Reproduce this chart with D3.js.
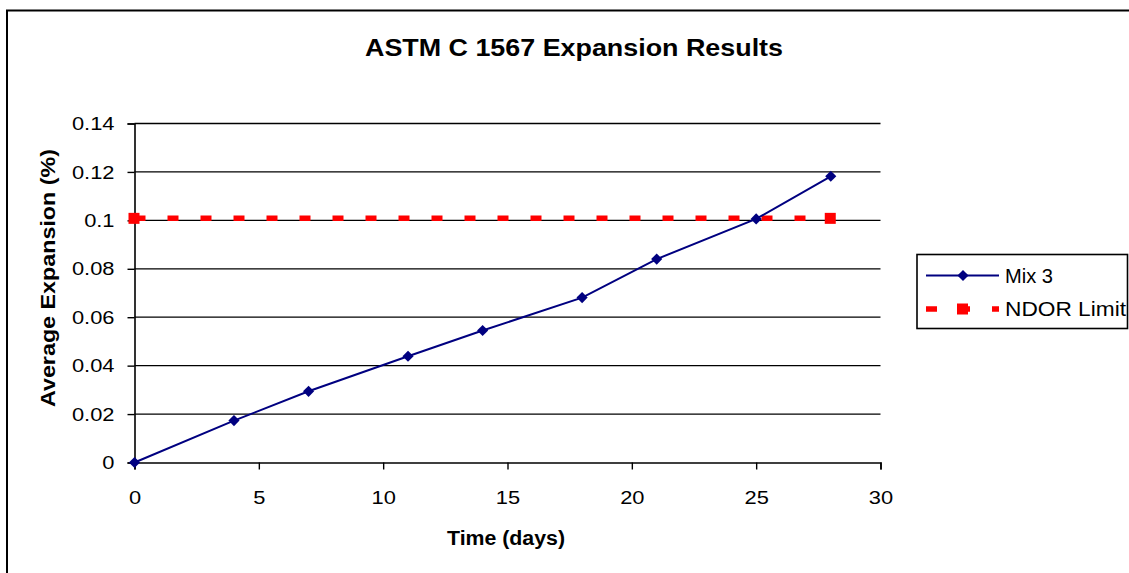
<!DOCTYPE html>
<html>
<head>
<meta charset="utf-8">
<script src="https://cdn.jsdelivr.net/npm/d3@7"></script>
<style>
  body { margin: 0; background: #fff; }
  svg { display: block; font-family: "Liberation Sans", Arial, sans-serif; }
</style>
</head>
<body>
<div id="main"></div>
<script>
// --- chart data
const days = [0, 4, 7, 11, 14, 18, 21, 25, 28];
const mix3 = [0, 0.0173, 0.0294, 0.0439, 0.0545, 0.0681, 0.0840, 0.1006, 0.1182];
const limitDays = [0, 28];
const limitValues = [0.1, 0.1];
const xTicks = [0, 5, 10, 15, 20, 25, 30];
const yTicks = [0, 0.02, 0.04, 0.06, 0.08, 0.1, 0.12, 0.14];

const svgWidth = 1129;
const svgHeight = 573;
const margin = { left: 134.5, top: 123.5, right: 248.5, bottom: 110.5 };
const chartWidth = svgWidth - margin.left - margin.right;
const chartHeight = svgHeight - margin.top - margin.bottom;

// widen text a bit, the original rendering is stretched horizontally
function stretch(sel, factor) {
  sel.each(function () {
    const w = this.getComputedTextLength();
    d3.select(this)
      .attr('textLength', w * factor)
      .attr('lengthAdjust', 'spacingAndGlyphs');
  });
}

const svg = d3.select('#main')
  .append('svg')
  .attr('width', svgWidth)
  .attr('height', svgHeight);

// outer chart border (runs off the right and bottom edge)
svg.append('rect')
  .attr('x', 7)
  .attr('y', 10.5)
  .attr('width', 1140)
  .attr('height', 580)
  .attr('fill', 'none')
  .attr('stroke', '#000')
  .attr('stroke-width', 2);

const xScale = d3.scaleLinear().domain([0, 30]).range([0, chartWidth]);
const yScale = d3.scaleLinear().domain([0, 0.14]).range([chartHeight, 0]);

const g = svg.append('g')
  .attr('transform', `translate(${margin.left}, ${margin.top})`);

// horizontal gridlines
g.selectAll('.grid')
  .data(yTicks.filter(d => d > 0))
  .enter()
  .append('line')
  .attr('x1', 0)
  .attr('x2', chartWidth)
  .attr('y1', d => yScale(d))
  .attr('y2', d => yScale(d))
  .attr('stroke', '#000')
  .attr('stroke-width', 1.3);

// axes
const xAxis = g.append('g')
  .attr('transform', `translate(0, ${chartHeight})`)
  .call(d3.axisBottom(xScale).tickValues(xTicks).tickSize(7).tickPadding(21).tickFormat(d3.format('d')));
const yAxis = g.append('g')
  .call(d3.axisLeft(yScale).tickValues(yTicks).tickSize(7).tickPadding(13).tickFormat(d => d === 0 ? '0' : String(+d.toFixed(2))));

[xAxis, yAxis].forEach(ax => {
  ax.select('.domain').attr('stroke', '#000').attr('stroke-width', 1.6);
  ax.selectAll('.tick line').attr('stroke', '#000').attr('stroke-width', 1.4);
  ax.selectAll('.tick text')
    .attr('fill', '#000')
    .style('font-size', '19px')
    .style('font-family', '"Liberation Sans", Arial, sans-serif');
  stretch(ax.selectAll('.tick text'), 1.15);
});

// NDOR limit line
const limitData = limitDays.map((d, i) => ({ x: d, y: limitValues[i] }));
g.append('path')
  .datum(limitData)
  .attr('fill', 'none')
  .attr('stroke', '#ff0000')
  .attr('stroke-width', 5.5)
  .attr('stroke-dasharray', '11,22')
  .attr('d', d3.line().x(d => xScale(d.x)).y(d => yScale(d.y) - 2));

g.selectAll('.limit-pt')
  .data(limitData)
  .enter()
  .append('rect')
  .attr('x', d => xScale(d.x) - 6)
  .attr('y', d => yScale(d.y) - 7.5)
  .attr('width', 11)
  .attr('height', 11)
  .attr('fill', '#ff0000');

// Mix 3 series
const mixData = days.map((d, i) => ({ x: d, y: mix3[i] }));
g.append('path')
  .datum(mixData)
  .attr('fill', 'none')
  .attr('stroke', '#000080')
  .attr('stroke-width', 2)
  .attr('d', d3.line().x(d => xScale(d.x)).y(d => yScale(d.y)));

const marker = d3.symbol().type(d3.symbolSquare).size(62);
g.selectAll('.mix-pt')
  .data(mixData)
  .enter()
  .append('path')
  .attr('transform', d => `translate(${xScale(d.x)}, ${yScale(d.y)}) rotate(45)`)
  .attr('d', marker)
  .attr('fill', '#000080');

// title and axis labels
svg.append('text')
  .attr('x', 574)
  .attr('y', 56)
  .attr('text-anchor', 'middle')
  .style('font-size', '23px')
  .style('font-weight', 'bold')
  .text('ASTM C 1567 Expansion Results')
  .attr('textLength', 418)
  .attr('lengthAdjust', 'spacingAndGlyphs');

svg.append('text')
  .attr('x', 506)
  .attr('y', 545)
  .attr('text-anchor', 'middle')
  .style('font-size', '20px')
  .style('font-weight', 'bold')
  .text('Time (days)')
  .attr('textLength', 118)
  .attr('lengthAdjust', 'spacingAndGlyphs');

svg.append('text')
  .attr('transform', 'translate(55, 278) rotate(-90)')
  .attr('text-anchor', 'middle')
  .style('font-size', '20px')
  .style('font-weight', 'bold')
  .text('Average Expansion (%)')
  .attr('textLength', 258)
  .attr('lengthAdjust', 'spacingAndGlyphs');

// legend
const legend = svg.append('g');
legend.append('rect')
  .attr('x', 917)
  .attr('y', 254.5)
  .attr('width', 210.5)
  .attr('height', 74)
  .attr('fill', '#fff')
  .attr('stroke', '#000')
  .attr('stroke-width', 1.6);

legend.append('line')
  .attr('x1', 926).attr('x2', 999)
  .attr('y1', 275.5).attr('y2', 275.5)
  .attr('stroke', '#000080')
  .attr('stroke-width', 2);
legend.append('path')
  .attr('transform', 'translate(963, 275.5) rotate(45)')
  .attr('d', marker)
  .attr('fill', '#000080');
legend.append('text')
  .attr('x', 1005)
  .attr('y', 282.5)
  .style('font-size', '20px')
  .text('Mix 3')
  .attr('textLength', 48)
  .attr('lengthAdjust', 'spacingAndGlyphs');

legend.append('line')
  .attr('x1', 926).attr('x2', 999)
  .attr('y1', 309).attr('y2', 309)
  .attr('stroke', '#ff0000')
  .attr('stroke-width', 5.5)
  .attr('stroke-dasharray', '11,22');
legend.append('rect')
  .attr('x', 957).attr('y', 303.5)
  .attr('width', 11).attr('height', 11)
  .attr('fill', '#ff0000');
legend.append('text')
  .attr('x', 1005)
  .attr('y', 316)
  .style('font-size', '20px')
  .text('NDOR Limit')
  .attr('textLength', 121)
  .attr('lengthAdjust', 'spacingAndGlyphs');
</script>
</body>
</html>
